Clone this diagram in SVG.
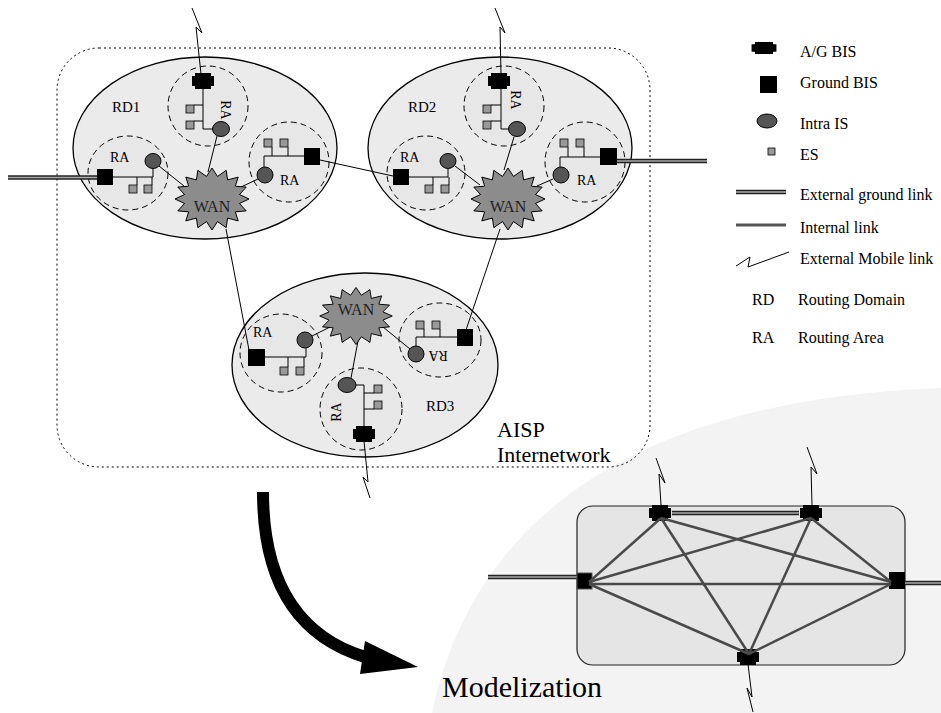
<svg xmlns="http://www.w3.org/2000/svg" xmlns:xlink="http://www.w3.org/1999/xlink" width="941" height="713" viewBox="0 0 941 713">
<style>
.rd{fill:#ebebeb;stroke:#000;stroke-width:1.3}
.ra{fill:#e7e7e7;stroke:#000;stroke-width:1;stroke-dasharray:6 4}
.ln{stroke:#000;stroke-width:1;fill:none}
.es{fill:#999;stroke:#000;stroke-width:0.8}
.is{fill:#555;stroke:#000;stroke-width:1}
.gb{fill:#000}
.wan{fill:#8c8c8c;stroke:#000;stroke-width:1}
.t{font-family:"Liberation Serif","Times New Roman",serif;fill:#000}
.ra-t{font-size:14px}
.rd-t{font-size:15px}
.wan-t{font-size:16px;fill:#222;text-anchor:middle}
.lg{font-size:16px}
.gl{stroke:#222;stroke-width:4.5;fill:none}
.gli{stroke:#aaa;stroke-width:1.5;fill:none}
.me{stroke:#4a4a4a;stroke-width:2.5;fill:none}
</style>
<defs>
<path id="agbis" d="M-8,-8 H8 V-5 H11 V5 H8 V8 H-8 V5 H-11 V-5 H-8 Z"/>
<path id="star" d="M37,0 L27.5,4.5 L34.2,11.9 L23.3,12.8 L26.2,21.9 L15.6,19.1 L14.2,28.6 L5.5,22.6 L0,31 L-5.5,22.6 L-14.2,28.6 L-15.6,19.1 L-26.2,21.9 L-23.3,12.8 L-34.2,11.9 L-27.5,4.5 L-37,0 L-27.5,-4.5 L-34.2,-11.9 L-23.3,-12.8 L-26.2,-21.9 L-15.6,-19.1 L-14.2,-28.6 L-5.5,-22.6 L0,-31 L5.5,-22.6 L14.2,-28.6 L15.6,-19.1 L26.2,-21.9 L23.3,-12.8 L34.2,-11.9 L27.5,-4.5 Z"/>
</defs>

<!-- background for model -->
<path d="M432,713 C470,530 620,400 941,388 L941,713 Z" fill="#f3f3f3"/>

<!-- AISP Internetwork boundary -->
<g id="aisp">
<rect x="57" y="48" width="593" height="419" rx="42" fill="none" stroke="#000" stroke-width="1" stroke-dasharray="2 3"/>
<text class="t" x="497" y="437" font-size="22">AISP</text>
<text class="t" x="497" y="462" font-size="22">Internetwork</text>
</g>

<!-- Routing domains -->
<g id="rd1">
<ellipse class="rd" cx="205" cy="148" rx="132" ry="91"/>
<text class="t rd-t" x="112" y="112">RD1</text>
</g>
<g id="rd2">
<ellipse class="rd" cx="500" cy="148" rx="132" ry="91"/>
<text class="t rd-t" x="408" y="112">RD2</text>
</g>
<g id="rd3">
<ellipse class="rd" cx="365" cy="365" rx="133" ry="92"/>
<text class="t rd-t" x="426" y="411">RD3</text>
</g>

<!-- Routing areas -->
<g id="rd1-ra-top">
<circle class="ra" cx="208" cy="106" r="40"/>
<text class="t ra-t" transform="translate(226,110) rotate(90)" text-anchor="middle" dy="0.35em">RA</text>
</g>
<g id="rd1-ra-left">
<ellipse class="ra" cx="128" cy="173" rx="40" ry="37"/>
<text class="t ra-t" x="110" y="162">RA</text>
</g>
<g id="rd1-ra-right">
<circle class="ra" cx="289" cy="162" r="40"/>
<text class="t ra-t" x="280" y="185">RA</text>
</g>
<g id="rd2-ra-top">
<circle class="ra" cx="504" cy="106" r="40"/>
<text class="t ra-t" transform="translate(516,100) rotate(90)" text-anchor="middle" dy="0.35em">RA</text>
</g>
<g id="rd2-ra-left">
<ellipse class="ra" cx="426" cy="173" rx="39" ry="37"/>
<text class="t ra-t" x="400" y="162">RA</text>
</g>
<g id="rd2-ra-right">
<circle class="ra" cx="585" cy="162" r="40"/>
<text class="t ra-t" x="577" y="185">RA</text>
</g>
<g id="rd3-ra-left">
<ellipse class="ra" cx="281" cy="353" rx="41" ry="39"/>
<text class="t ra-t" x="253" y="337">RA</text>
</g>
<g id="rd3-ra-right">
<ellipse class="ra" cx="440" cy="340" rx="41" ry="37"/>
<text class="t ra-t" transform="translate(438,356) rotate(180)" text-anchor="middle" dy="0.35em">RA</text>
</g>
<g id="rd3-ra-bottom">
<circle class="ra" cx="361" cy="409" r="41"/>
<text class="t ra-t" transform="translate(336,412) rotate(-90)" text-anchor="middle" dy="0.35em">RA</text>
</g>

<!-- connectors -->
<g id="connectors">
<path class="gl" d="M8,177.5 H97"/><path class="gli" d="M8,177.5 H97"/>
<path class="gl" d="M617,161 H707"/><path class="gli" d="M617,161 H707"/>
<path class="ln" d="M192,8 L202,33 L196,27 L201,74"/>
<path class="ln" d="M495,8 L505,33 L500,27 L501,74"/>
<path class="ln" d="M364,441 L368,482 L363,477 L370,498"/>
<path class="ln" d="M320,160 L393,176"/>
<path class="ln" d="M226,229 L249,350"/>
<path class="ln" d="M500,229 L466,330"/>
<path class="ln" d="M203,88 V129 H213 M194,105 H203 M194,121 H203"/>
<path class="ln" d="M217,136 L208,172"/>
<path class="ln" d="M113,177 H153 V168 M137,177 V185 M152,177 V185"/>
<path class="ln" d="M159,166 L184,186"/>
<path class="ln" d="M304,156 H264 V167 M272,147 V156 M288,147 V156"/>
<path class="ln" d="M258,179 L241,187"/>
<path class="ln" d="M501,88 V129 H509 M491,105 H501 M491,121 H501"/>
<path class="ln" d="M514,137 L504,170"/>
<path class="ln" d="M409,177 H448 V169 M433,177 V185 M449,177 V185"/>
<path class="ln" d="M455,166 L480,185"/>
<path class="ln" d="M600,157 H560 V167 M568,147 V157 M584,147 V157"/>
<path class="ln" d="M553,179 L537,186"/>
<path class="ln" d="M265,357 H306 V348 M288,357 V367 M304,357 V367"/>
<path class="ln" d="M312,336 L330,327"/>
<path class="ln" d="M457,337 H416 V346 M424,329 V337 M440,329 V337"/>
<path class="ln" d="M410,349 L383,327"/>
<path class="ln" d="M356,385 H364 V428 M364,393 H374 M364,409 H374"/>
<path class="ln" d="M351,378 L358,341"/>
</g>

<!-- WAN nodes -->
<g id="rd1-wan"><use xlink:href="#star" class="wan" transform="translate(212,199)"/><text class="t wan-t" x="212" y="212">WAN</text></g>
<g id="rd2-wan"><use xlink:href="#star" class="wan" transform="translate(508,199)"/><text class="t wan-t" x="508" y="212">WAN</text></g>
<g id="rd3-wan"><use xlink:href="#star" class="wan" transform="translate(356,316) scale(0.98,0.92)"/><text class="t wan-t" x="356" y="315">WAN</text></g>

<!-- BIS nodes -->
<g id="rd1-agbis"><use xlink:href="#agbis" class="gb" transform="translate(203,81)"/></g>
<g id="rd1-gbis-left"><rect class="gb" x="97" y="169" width="16" height="16"/></g>
<g id="rd1-gbis-right"><rect class="gb" x="304" y="148" width="16" height="17"/></g>
<g id="rd2-agbis"><use xlink:href="#agbis" class="gb" transform="translate(499,81)"/></g>
<g id="rd2-gbis-left"><rect class="gb" x="393" y="169" width="16" height="16"/></g>
<g id="rd2-gbis-right"><rect class="gb" x="600" y="148" width="17" height="17"/></g>
<g id="rd3-gbis-left"><rect class="gb" x="248" y="349" width="17" height="17"/></g>
<g id="rd3-gbis-right"><rect class="gb" x="457" y="329" width="16" height="17"/></g>
<g id="rd3-agbis"><use xlink:href="#agbis" class="gb" transform="translate(364,434)"/></g>

<!-- Intra IS -->
<g id="rd1-is-top"><ellipse class="is" cx="221" cy="129" rx="8.5" ry="7.5"/></g>
<g id="rd1-is-left"><ellipse class="is" cx="153" cy="161" rx="8" ry="7.5"/></g>
<g id="rd1-is-right"><ellipse class="is" cx="265" cy="175" rx="8" ry="8"/></g>
<g id="rd2-is-top"><ellipse class="is" cx="517" cy="129" rx="8.5" ry="7.5"/></g>
<g id="rd2-is-left"><ellipse class="is" cx="448" cy="161" rx="8" ry="7.5"/></g>
<g id="rd2-is-right"><ellipse class="is" cx="561" cy="175" rx="8" ry="8"/></g>
<g id="rd3-is-left"><ellipse class="is" cx="305" cy="340" rx="8" ry="8"/></g>
<g id="rd3-is-right"><ellipse class="is" cx="416" cy="354" rx="8" ry="8"/></g>
<g id="rd3-is-bottom"><ellipse class="is" cx="347" cy="385" rx="9" ry="7.5"/></g>

<!-- ES -->
<g id="es-nodes">
<rect class="es" x="186" y="105" width="8" height="8"/><rect class="es" x="186" y="121" width="8" height="8"/>
<rect class="es" x="129" y="185" width="8" height="8"/><rect class="es" x="144" y="185" width="8" height="8"/>
<rect class="es" x="264" y="139" width="8" height="8"/><rect class="es" x="280" y="139" width="8" height="8"/>
<rect class="es" x="483" y="105" width="8" height="8"/><rect class="es" x="483" y="121" width="8" height="8"/>
<rect class="es" x="425" y="185" width="8" height="8"/><rect class="es" x="441" y="185" width="8" height="8"/>
<rect class="es" x="560" y="139" width="8" height="8"/><rect class="es" x="576" y="139" width="8" height="8"/>
<rect class="es" x="280" y="367" width="8" height="8"/><rect class="es" x="296" y="367" width="8" height="8"/>
<rect class="es" x="416" y="321" width="8" height="8"/><rect class="es" x="432" y="321" width="8" height="8"/>
<rect class="es" x="374" y="385" width="8" height="8"/><rect class="es" x="374" y="401" width="8" height="8"/>
</g>

<!-- Legend -->
<g id="legend">
<use xlink:href="#agbis" class="gb" transform="translate(764,48) scale(1.13,0.75)"/>
<text class="t lg" x="800" y="57">A/G BIS</text>
<rect class="gb" x="760" y="76" width="17" height="17"/>
<text class="t lg" x="800" y="88">Ground BIS</text>
<ellipse class="is" cx="767" cy="121" rx="10" ry="7"/>
<text class="t lg" x="800" y="129">Intra IS</text>
<rect class="es" x="768" y="148" width="7" height="7"/>
<text class="t lg" x="800" y="160">ES</text>
<path class="gl" d="M736,192 H786"/><path class="gli" d="M736,192 H786"/>
<text class="t lg" x="800" y="200">External ground link</text>
<path d="M736,225 H786" stroke="#555" stroke-width="3"/>
<text class="t lg" x="800" y="233">Internal link</text>
<path class="ln" d="M736,266 L750,257 L748,267 L789,252"/>
<text class="t lg" x="800" y="264">External Mobile link</text>
<text class="t lg" x="752" y="305">RD</text>
<text class="t lg" x="798" y="305">Routing Domain</text>
<text class="t lg" x="752" y="343">RA</text>
<text class="t lg" x="798" y="343">Routing Area</text>
</g>

<!-- Modelization arrow -->
<g id="arrow">
<path d="M263,492 C263,585 300,637 365,657" fill="none" stroke="#000" stroke-width="12"/>
<polygon points="365,641 418,667 360,674" fill="#000"/>
</g>
<text class="t" x="442" y="697" font-size="30">Modelization</text>

<!-- Model -->
<g id="model-box">
<rect x="577" y="506" width="328" height="159" rx="16" fill="#e5e5e5" stroke="#222" stroke-width="1.2"/>
</g>
<g id="model-connectors">
<path class="gl" d="M488,577 H577"/><path class="gli" d="M488,577 H577"/>
<path class="gl" d="M905,583 H941"/><path class="gli" d="M905,583 H941"/>
<path class="ln" d="M656,458 L665,483 L659,474 L661,505"/>
<path class="ln" d="M807,447 L817,474 L811,467 L812,505"/>
<path class="ln" d="M748,664 L752,697 L747,688 L753,712"/>
</g>
<g id="model-tl"><use xlink:href="#agbis" class="gb" transform="translate(660,513)"/></g>
<g id="model-tr"><use xlink:href="#agbis" class="gb" transform="translate(811,513)"/></g>
<g id="model-l"><rect x="577" y="573" width="15" height="16" fill="#000" stroke="#555" stroke-width="1"/></g>
<g id="model-r"><rect class="gb" x="889" y="572" width="16" height="17"/></g>
<g id="model-b"><use xlink:href="#agbis" class="gb" transform="translate(748,657)"/></g>
<g id="model-edges">
<path class="gl" d="M672,513 H799"/><path class="gli" d="M672,513 H799"/>
<path class="me" d="M661,518 L589,582"/>
<path class="me" d="M661,518 L891,582"/>
<path class="me" d="M661,518 L749,654"/>
<path class="me" d="M811,518 L589,582"/>
<path class="me" d="M811,518 L891,582"/>
<path class="me" d="M811,518 L749,654"/>
<path class="me" d="M589,584 L891,584"/>
<path class="me" d="M589,584 L749,654"/>
<path class="me" d="M891,584 L749,654"/>
</g>
</svg>
